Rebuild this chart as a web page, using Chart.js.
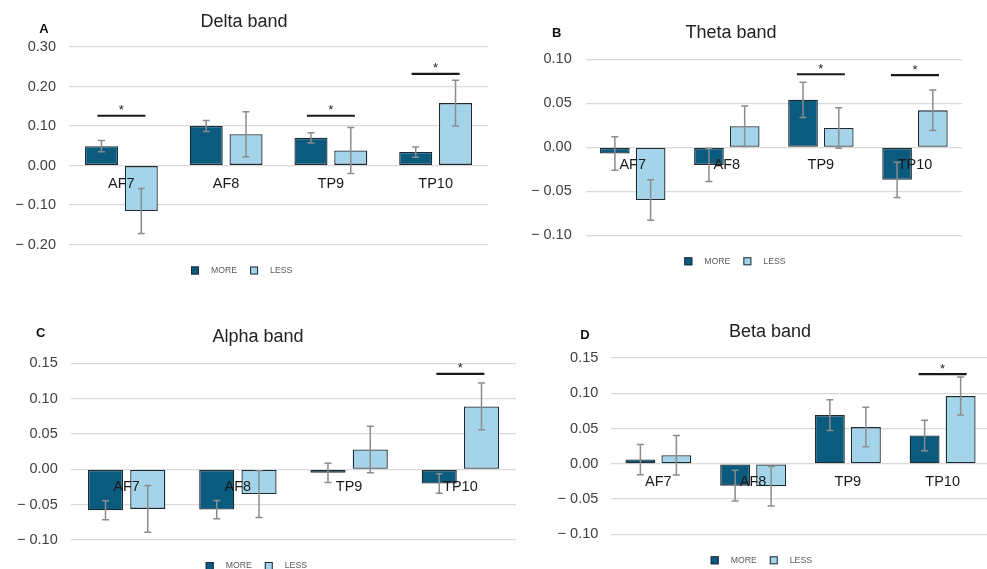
<!DOCTYPE html>
<html>
<head>
<meta charset="utf-8">
<script src="https://cdn.jsdelivr.net/npm/chart.js@4.4.1/dist/chart.umd.min.js"></script>
<style>
  html, body { margin: 0; padding: 0; background: #fff; overflow: hidden; }
  body { width: 987px; height: 569px; position: relative; }
  canvas { position: absolute; }
</style>
</head>
<body>
<canvas id="chartA"></canvas>
<canvas id="chartB"></canvas>
<canvas id="chartC"></canvas>
<canvas id="chartD"></canvas>
<script>
// electrodes and groups
const categories = ['AF7', 'AF8', 'TP9', 'TP10'];
const seriesNames = ['MORE', 'LESS'];

// Delta band
const deltaMore = [0.049, 0.100, 0.070, 0.034];
const deltaMoreErr = [0.014, 0.014, 0.013, 0.013];
const deltaLess = [-0.115, 0.079, 0.038, 0.158];
const deltaLessErr = [0.057, 0.057, 0.058, 0.058];
const deltaSig = [0.126, null, 0.126, 0.232];
const deltaTicks = [-0.2, -0.1, 0, 0.1, 0.2, 0.3];

// Theta band
const thetaMore = [-0.007, -0.020, 0.054, -0.037];
const thetaMoreErr = [0.019, 0.019, 0.020, 0.020];
const thetaLess = [-0.060, 0.024, 0.022, 0.042];
const thetaLessErr = [0.023, 0.023, 0.023, 0.023];
const thetaSig = [null, null, 0.083, 0.082];
const thetaTicks = [-0.1, -0.05, 0, 0.05, 0.1];

// Alpha band
const alphaMore = [-0.058, -0.057, -0.005, -0.020];
const alphaMoreErr = [0.0135, 0.013, 0.0137, 0.0137];
const alphaLess = [-0.056, -0.035, 0.028, 0.089];
const alphaLessErr = [0.033, 0.033, 0.033, 0.033];
const alphaSig = [null, null, null, 0.135];
const alphaTicks = [-0.1, -0.05, 0, 0.05, 0.1, 0.15];

// Beta band
const betaMore = [0.006, -0.031, 0.069, 0.040];
const betaMoreErr = [0.0215, 0.0218, 0.0217, 0.0217];
const betaLess = [0.012, -0.032, 0.052, 0.096];
const betaLessErr = [0.028, 0.028, 0.028, 0.027];
const betaSig = [null, null, null, 0.127];
const betaTicks = [-0.1, -0.05, 0, 0.05, 0.1, 0.15];

const FONT = '"Liberation Sans", Arial, sans-serif';
const moreColor = '#0b5b7f';
const lessColor = '#a3d4ea';
const edgeColor = '#1e2b33';

const fmt = v => (v < -1e-9 ? '\u2212 ' : '') + Math.abs(v).toFixed(2);

// draws category labels on the zero line, error bars, significance marks, panel letter and legend
function makeExtras(p) {
  return {
    id: 'extras',
    afterDatasetsDraw(chart) {
      const ctx = chart.ctx;
      const xs = chart.scales.x, ys = chart.scales.y;
      ctx.save();

      ctx.font = '14.5px ' + FONT;
      ctx.fillStyle = '#1a1a1a';
      ctx.textAlign = 'center';
      ctx.textBaseline = 'middle';
      chart.data.labels.forEach((lab, i) => {
        ctx.fillText(lab, xs.getPixelForValue(i), ys.getPixelForValue(0) + 18);
      });

      // error bars
      ctx.strokeStyle = '#8c8c8c';
      ctx.lineWidth = 1.5;
      chart.data.datasets.forEach((ds, d) => {
        const meta = chart.getDatasetMeta(d);
        meta.data.forEach((bar, i) => {
          const v = ds.data[i], e = p.errs[d][i];
          const y1 = ys.getPixelForValue(v + e), y2 = ys.getPixelForValue(v - e);
          ctx.beginPath();
          ctx.moveTo(bar.x, y1); ctx.lineTo(bar.x, y2);
          ctx.moveTo(bar.x - 3.5, y1); ctx.lineTo(bar.x + 3.5, y1);
          ctx.moveTo(bar.x - 3.5, y2); ctx.lineTo(bar.x + 3.5, y2);
          ctx.stroke();
        });
      });

      // significance bars
      ctx.strokeStyle = '#1a1a1a';
      ctx.lineWidth = 2.2;
      ctx.fillStyle = '#222';
      ctx.font = '13px ' + FONT;
      ctx.textBaseline = 'alphabetic';
      p.sig.forEach((h, i) => {
        if (h === null) return;
        const cx = xs.getPixelForValue(i), yy = ys.getPixelForValue(h);
        ctx.beginPath();
        ctx.moveTo(cx - 24, yy); ctx.lineTo(cx + 24, yy);
        ctx.stroke();
        ctx.fillText('*', cx, yy - 9 + 7.4);
      });

      // panel letter
      ctx.font = 'bold 13px ' + FONT;
      ctx.fillStyle = '#111';
      ctx.textBaseline = 'middle';
      ctx.fillText(p.letter, p.letterX - p.canvas.left, p.letterY - p.canvas.top);

      // legend
      let lx = p.legendX - p.canvas.left;
      const ly = p.area.bottom + 26 - p.canvas.top;
      ctx.font = '8.7px ' + FONT;
      ctx.textAlign = 'left';
      chart.data.datasets.forEach(ds => {
        ctx.fillStyle = ds.backgroundColor;
        ctx.fillRect(lx, ly - 4, 8, 8);
        ctx.strokeStyle = edgeColor;
        ctx.lineWidth = 1;
        ctx.strokeRect(lx + 0.5, ly - 3.5, 7, 7);
        ctx.fillStyle = '#595959';
        ctx.fillText(ds.label, lx + 20, ly);
        lx += 20 + ctx.measureText(ds.label).width + 13;
      });

      ctx.restore();
    }
  };
}

function makePanel(id, p) {
  const cv = document.getElementById(id);
  cv.width = p.canvas.width;
  cv.height = p.canvas.height;
  cv.style.left = p.canvas.left + 'px';
  cv.style.top = p.canvas.top + 'px';

  const half = 10.8; // half of the title line height (18px * 1.2)
  const yWidth = p.area.left - p.canvas.left;

  new Chart(cv, {
    type: 'bar',
    data: {
      labels: categories,
      datasets: [
        { label: seriesNames[0], data: p.more, backgroundColor: moreColor, borderColor: edgeColor, borderWidth: 1.3, borderSkipped: false },
        { label: seriesNames[1], data: p.less, backgroundColor: lessColor, borderColor: edgeColor, borderWidth: 1.3, borderSkipped: false }
      ]
    },
    options: {
      responsive: false,
      animation: false,
      devicePixelRatio: 1,
      categoryPercentage: 0.76,
      barPercentage: 0.83,
      layout: {
        padding: {
          left: 0,
          top: 0,
          right: p.canvas.left + p.canvas.width - p.area.right,
          bottom: p.canvas.top + p.canvas.height - p.area.bottom
        }
      },
      plugins: {
        legend: { display: false },
        tooltip: { enabled: false },
        title: {
          display: true,
          text: p.title,
          color: '#222',
          font: { family: FONT, size: 18, weight: 'normal' },
          padding: {
            top: p.titleY - p.canvas.top - half,
            bottom: p.area.top - p.titleY - half
          }
        }
      },
      scales: {
        x: { display: false },
        y: {
          min: p.ticks[0],
          max: p.ticks[p.ticks.length - 1],
          afterBuildTicks: s => { s.ticks = p.ticks.map(v => ({ value: v })); },
          afterFit: s => { s.width = yWidth; },
          border: { display: false },
          grid: { color: '#d9d9d9', lineWidth: 1.2, drawTicks: false },
          ticks: {
            padding: p.tickPad,
            color: '#404040',
            font: { family: FONT, size: 14.5 },
            callback: v => fmt(v)
          }
        }
      }
    },
    plugins: [makeExtras(p)]
  });
}

makePanel('chartA', {
  title: 'Delta band', letter: 'A', letterX: 44, letterY: 29, titleY: 22, legendX: 191, tickPad: 13,
  canvas: { left: 0, top: 0, width: 520, height: 290 },
  area: { left: 69, right: 488, top: 47, bottom: 244.5 },
  more: deltaMore, less: deltaLess, errs: [deltaMoreErr, deltaLessErr], sig: deltaSig, ticks: deltaTicks
});

makePanel('chartB', {
  title: 'Theta band', letter: 'B', letterX: 556.7, letterY: 33, titleY: 33, legendX: 684.3, tickPad: 14,
  canvas: { left: 500, top: 0, width: 470, height: 290 },
  area: { left: 585.7, right: 962, top: 59.3, bottom: 235.3 },
  more: thetaMore, less: thetaLess, errs: [thetaMoreErr, thetaLessErr], sig: thetaSig, ticks: thetaTicks
});

makePanel('chartC', {
  title: 'Alpha band', letter: 'C', letterX: 40.7, letterY: 333, titleY: 337, legendX: 205.7, tickPad: 13.3,
  canvas: { left: 0, top: 295, width: 546, height: 274 },
  area: { left: 71, right: 516, top: 363.3, bottom: 540 },
  more: alphaMore, less: alphaLess, errs: [alphaMoreErr, alphaLessErr], sig: alphaSig, ticks: alphaTicks
});

makePanel('chartD', {
  title: 'Beta band', letter: 'D', letterX: 585, letterY: 335.7, titleY: 332, legendX: 710.7, tickPad: 12.7,
  canvas: { left: 550, top: 295, width: 457, height: 274 },
  area: { left: 611, right: 990, top: 358, bottom: 534.3 },
  more: betaMore, less: betaLess, errs: [betaMoreErr, betaLessErr], sig: betaSig, ticks: betaTicks
});
</script>
</body>
</html>
